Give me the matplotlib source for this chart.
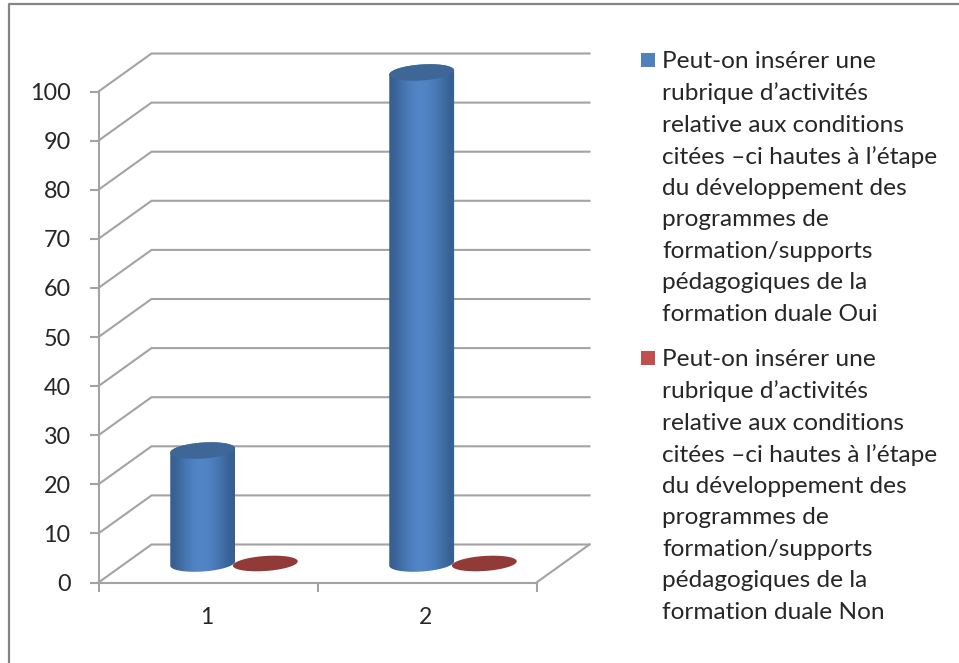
import matplotlib
matplotlib.use('Agg')
import matplotlib.pyplot as plt
from matplotlib.patches import Polygon, Rectangle
import numpy as np

plt.rcParams['font.family'] = ['Lato', 'DejaVu Sans']

categories = [1, 2]
oui_values = [23, 100]
non_values = [0, 0]
y_ticks = [0, 10, 20, 30, 40, 50, 60, 70, 80, 90, 100]

legend_oui = ['Peut-on insérer une', 'rubrique d’activités', 'relative aux conditions',
              'citées –ci hautes à l’étape', 'du développement des', 'programmes de',
              'formation/supports', 'pédagogiques de la', 'formation duale Oui']
legend_non = ['Peut-on insérer une', 'rubrique d’activités', 'relative aux conditions',
              'citées –ci hautes à l’étape', 'du développement des', 'programmes de',
              'formation/supports', 'pédagogiques de la', 'formation duale Non']

W, H = 959, 663
GRID = '#a3a3a3'
TEXT = '#262626'

# pixels per data unit in each direction, used for the fake 3d depth
PX_X = 219.0
PX_Y = 4.91
DEPTH_X = 53.0 / PX_X
DEPTH_Y = 38.0 / PX_Y
BAR_DEPTH_X = 26.0 / PX_X
BAR_DEPTH_Y = 19.0 / PX_Y
BAR_W = 65.0
BAR_OFF = 0.143


def fx(px):
    return px / W


def fy(py):
    return 1 - py / H


def ellipse_pts(cx, cy, w_px, h_px, angle, t0=0, t1=360):
    # tilted ellipse laid out in pixels, returned in data units
    t = np.radians(np.linspace(t0, t1, 80))
    a = np.radians(angle)
    ex = w_px / 2 * np.cos(t)
    ey = h_px / 2 * np.sin(t)
    dx = ex * np.cos(a) - ey * np.sin(a)
    dy = ex * np.sin(a) + ey * np.cos(a)
    return np.column_stack([cx + dx / PX_X, cy + dy / PX_Y])


def draw_cylinder(ax, x, value):
    cx = x + BAR_DEPTH_X
    base = BAR_DEPTH_Y
    top = value + BAR_DEPTH_Y
    # side of the cylinder: lower half of the base, upper half of the top
    outline = np.vstack([ellipse_pts(cx, base, BAR_W, 16, 4, 180, 360),
                         ellipse_pts(cx, top, BAR_W, 16, 4, 0, 180)])
    shape = Polygon(outline, closed=True, facecolor='none', edgecolor='none',
                    transform=ax.transData, zorder=3, clip_on=False)
    ax.add_patch(shape)
    grad = np.array([0.0, 0.35, 0.7, 0.95, 1.0, 0.9, 0.65, 0.3, 0.0])
    c0 = np.array([0x36, 0x5f, 0x91]) / 255
    c1 = np.array([0x52, 0x86, 0xc8]) / 255
    rgb = np.array([c0 + (c1 - c0) * g for g in grad])[np.newaxis, :, :]
    half = BAR_W / 2 / PX_X
    im = ax.imshow(rgb, extent=[cx - half, cx + half, base - 4, top + 4], aspect='auto',
                   interpolation='bicubic', zorder=3)
    # the cylinder sits past the top of the axes once pushed back in depth
    im.set_clip_box(fig.bbox)
    im.set_clip_path(shape)
    ax.add_patch(Polygon(ellipse_pts(cx, top, BAR_W, 16, 4), closed=True,
                         facecolor='#3e6797', edgecolor='none', zorder=4))


def draw_flat(ax, x, value):
    ax.add_patch(Polygon(ellipse_pts(x + BAR_DEPTH_X, value + BAR_DEPTH_Y, 65, 15, 4),
                         closed=True, facecolor='#923a38', edgecolor='none', zorder=4))


fig = plt.figure(figsize=(W / 100, H / 100), dpi=100, facecolor='white')

# outer frame, open at the right and the bottom of the canvas
fig.add_artist(plt.Line2D([fx(9), fx(9), fx(W)], [0, fy(4), fy(4)], color='#858585', lw=1.6))

ax = fig.add_axes([fx(98.5), fy(582.5), fx(438), (582.5 - 91.5) / H])
ax.set_xlim(0.5, 2.5)
ax.set_ylim(0, 100)
ax.patch.set_visible(False)
for side in ['top', 'right']:
    ax.spines[side].set_visible(False)
for side in ['left', 'bottom']:
    ax.spines[side].set_color(GRID)
    ax.spines[side].set_linewidth(1.5)

# wall lines running back from the value axis, then along the back wall
for v in y_ticks:
    ax.plot([0.5, 0.5 + DEPTH_X, 2.5 + DEPTH_X], [v, v + DEPTH_Y, v + DEPTH_Y],
            color=GRID, lw=1.5, clip_on=False, zorder=1, solid_joinstyle='miter')
# floor edge on the right
ax.plot([2.5, 2.5 + DEPTH_X], [0, DEPTH_Y], color=GRID, lw=1.5, clip_on=False, zorder=1)

for i, cat in enumerate(categories):
    draw_cylinder(ax, cat - BAR_OFF, oui_values[i])
    draw_flat(ax, cat + BAR_OFF, non_values[i])

ax.set_xlim(0.5, 2.5)
ax.set_ylim(0, 100)
ax.set_xticks([0.5, 1.5, 2.5])
ax.set_xticklabels([])
ax.set_yticks(y_ticks)
ax.tick_params(axis='both', color=GRID, width=1.5, length=6.5)
ax.tick_params(axis='y', labelsize=16.8, labelcolor=TEXT, pad=13.5)
for cat in categories:
    ax.annotate(str(cat), (cat - 0.005, 0), xytext=(0, -25), textcoords='offset points', ha='center',
                va='center', fontsize=16.5, color=TEXT, annotation_clip=False)
for patch in ax.patches:
    patch.set_clip_on(False)

# legend written out line by line
LINE_H = 31.55
for labels, start, colour in [(legend_oui, 60, '#4f81bd'), (legend_non, 358, '#c0504d')]:
    fig.add_artist(Rectangle((fx(641), fy(start + 7)), 14 / W, 14 / H, transform=fig.transFigure,
                             facecolor=colour, edgecolor='none'))
    for j, line in enumerate(labels):
        fig.text(fx(662), fy(start + 2 + j * LINE_H), line, fontsize=17.6, color=TEXT,
                 ha='left', va='center')

fig.savefig('out.png', dpi=100)
